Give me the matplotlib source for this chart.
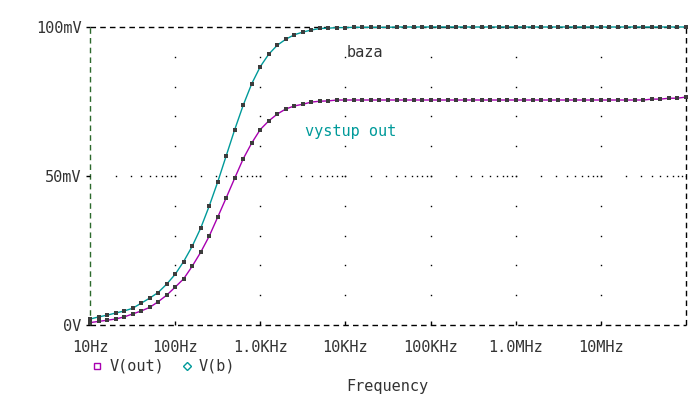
import numpy as np
import matplotlib
matplotlib.use('Agg')
import matplotlib.pyplot as plt
from matplotlib.lines import Line2D

# ---- data (PSpice AC sweep, 10 points/decade, 10 Hz .. 100 MHz) ----
freq = np.logspace(1, 8, 71)

v_b = [2.0, 2.7, 3.3, 4.0, 4.7, 5.6, 7.3, 9.0, 10.9, 13.7,
       17.0, 21.3, 26.4, 32.5, 39.9, 48.0, 56.8, 65.6, 73.8, 81.0,
       86.7, 90.9, 93.9, 95.9, 97.4, 98.3, 99.0, 99.5, 99.6, 99.8,
       99.8, 99.9, 99.9, 99.9, 99.9, 99.9, 100.0, 100.0, 100.0, 100.0,
       100.0, 100.0, 100.0, 100.0, 100.0, 100.0, 100.0, 100.0, 100.0, 100.0,
       100.0, 100.0, 100.0, 100.0, 100.0, 100.0, 100.0, 100.0, 100.0, 100.0,
       100.0, 100.0, 100.0, 100.0, 100.0, 100.0, 100.0, 100.0, 100.0, 100.0,
       100.0]

v_out = [0.8, 1.2, 1.6, 2.0, 2.7, 3.7, 4.7, 5.9, 7.8, 10.0,
         12.7, 15.5, 19.7, 24.4, 29.8, 36.2, 42.7, 49.3, 55.8, 61.1,
         65.6, 68.5, 70.8, 72.5, 73.5, 74.1, 74.8, 75.1, 75.2, 75.5,
         75.5, 75.5, 75.5, 75.5, 75.5, 75.5, 75.5, 75.5, 75.5, 75.5,
         75.5, 75.5, 75.5, 75.5, 75.5, 75.5, 75.5, 75.5, 75.5, 75.5,
         75.5, 75.5, 75.5, 75.5, 75.5, 75.5, 75.5, 75.5, 75.5, 75.5,
         75.5, 75.5, 75.5, 75.5, 75.5, 75.5, 75.8, 75.8, 76.1, 76.1,
         76.5]

x_ticks = [1e1, 1e2, 1e3, 1e4, 1e5, 1e6, 1e7]
x_labels = ['10Hz', '100Hz', '1.0KHz', '10KHz', '100KHz', '1.0MHz', '10MHz']
y_ticks = [0, 50, 100]
y_labels = ['0V', '50mV', '100mV']

series_names = ['V(out)', 'V(b)']
annot_b = 'baza'
annot_out = 'vystup out'
xlabel = 'Frequency'

# ---- style ----
TEAL = '#009a9a'
MAG = '#a800b0'
TXT = '#333333'
FONT = 'DejaVu Sans Mono'
FS = 11
W, H = 691, 396

fig = plt.figure(figsize=(W / 100, H / 100), dpi=100)
fig.patch.set_facecolor('white')
ax = fig.add_axes([90 / W, (H - 325) / H, (686 - 90) / W, (325 - 27) / H])
ax.set_xscale('log')
ax.set_xlim(1e1, 1e8)
ax.set_ylim(0, 100)
for s in ax.spines.values():
    s.set_visible(False)

# dashed frame
dash = (0, (4, 3))
ax.axhline(100, color='black', lw=1, ls=dash, clip_on=False, zorder=1)
ax.axhline(0, color='black', lw=1, ls=dash, clip_on=False, zorder=1)
ax.axvline(1e8, color='black', lw=1, ls=dash, clip_on=False, zorder=1)
ax.axvline(1e1, color='#2d6a2d', lw=1, ls=dash, clip_on=False, zorder=1)

# dotted grid: vertical at decades, horizontal at 50 mV (minor log positions)
grid_y = np.arange(10, 100, 10)
for xd in x_ticks[1:]:
    ax.plot(np.full(len(grid_y), xd), grid_y, ls='none', marker='s', ms=1.0,
            mew=0, color='black', zorder=1)
minor_x = [m * 10.0 ** d for d in range(1, 8) for m in range(2, 11)]
ax.plot(minor_x, np.full(len(minor_x), 50.0), ls='none', marker='s', ms=1.0,
        mew=0, color='black', zorder=1)

# traces
ax.plot(freq, v_out, color=MAG, lw=1.0, marker='s', ms=2.4, mfc='#3c3c3c',
        mew=0, zorder=3, clip_on=False)
ax.plot(freq, v_b, color=TEAL, lw=1.0, marker='s', ms=2.4, mfc='#3c3c3c',
        mew=0, zorder=3, clip_on=False)

# ticks
ax.minorticks_off()
ax.set_xticks(x_ticks, x_labels)
ax.set_yticks(y_ticks, y_labels)
ax.tick_params(axis='x', direction='in', length=3, width=1, color='black',
               pad=11, labelsize=FS, labelcolor=TXT)
ax.tick_params(axis='y', direction='out', length=3, width=1, color='black',
               pad=3, labelsize=FS, labelcolor=TXT)
for lab in ax.get_xticklabels() + ax.get_yticklabels():
    lab.set_fontfamily(FONT)

# annotations
def fx(px):
    return px / W

def fy(py):
    return 1 - py / H

fig.text(fx(347), fy(57), annot_b, color=TXT, family=FONT, fontsize=FS,
         ha='left', va='baseline')
fig.text(fx(305), fy(136), annot_out, color=TEAL, family=FONT, fontsize=FS,
         ha='left', va='baseline')

# legend (manual)
fig.add_artist(Line2D([fx(96.7)], [fy(366)], marker='s', ms=5, mfc='none',
                      mec=MAG, mew=1, ls='none', transform=fig.transFigure))
fig.text(fx(110), fy(366), series_names[0], color=TXT, family=FONT,
         fontsize=FS, ha='left', va='center')
fig.add_artist(Line2D([fx(186.7)], [fy(366)], marker='D', ms=4, mfc='none',
                      mec=TEAL, mew=1, ls='none', transform=fig.transFigure))
fig.text(fx(199), fy(366), series_names[1], color=TXT, family=FONT,
         fontsize=FS, ha='left', va='center')

fig.text(fx(387), fy(386), xlabel, color=TXT, family=FONT, fontsize=FS,
         ha='center', va='center')

fig.savefig('out.png', dpi=100, facecolor='white')
